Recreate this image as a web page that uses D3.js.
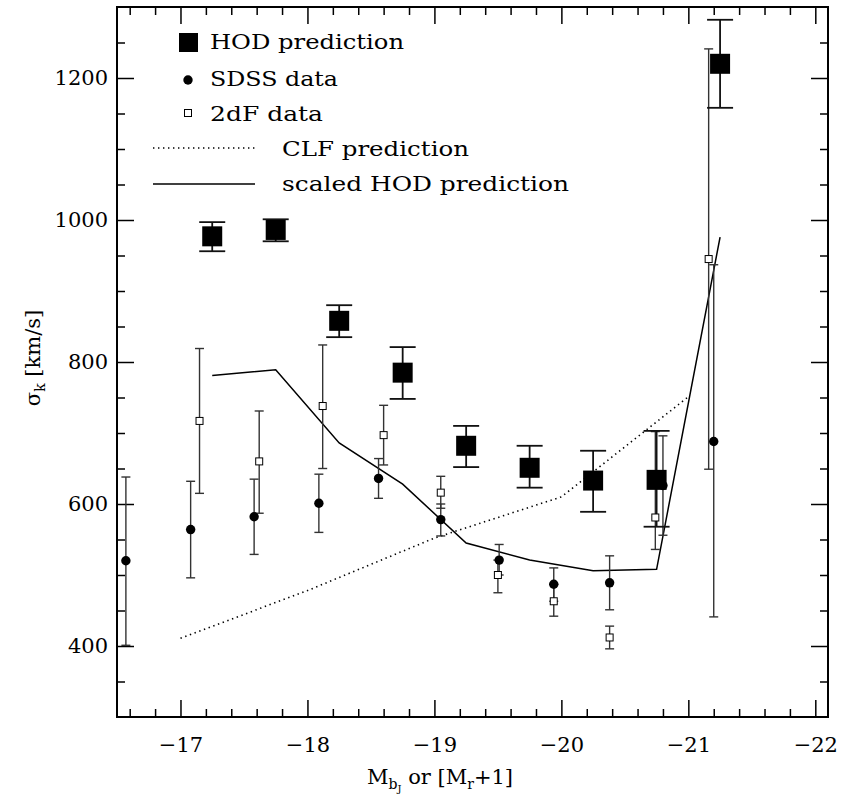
<!DOCTYPE html>
<html>
<head>
<meta charset="utf-8">
<script src="https://cdn.jsdelivr.net/npm/d3@7"></script>
<style>
  body { margin: 0; background: #fff; }
  svg text { font-family: "DejaVu Serif", "Liberation Serif", serif; fill: #000; }
</style>
</head>
<body>
<div id="chart"></div>
<script>
// HOD prediction (big filled squares)
var hodX  = [-17.25, -17.75, -18.25, -18.75, -19.25, -19.75, -20.25, -20.75, -21.25];
var hodY  = [977, 986, 858, 785, 682, 651, 633, 634, 1220];
var hodHi = [997, 1001, 880, 821, 710, 682, 675, 703, 1282];
var hodLo = [956, 970, 835, 748, 652, 623, 589, 568, 1158];

// scaled HOD prediction (solid line)
var scaledY = [781, 789, 686, 628, 545, 521, 506, 508, 976];

// SDSS data (filled circles)
var sdssX  = [-16.57, -17.08, -17.58, -18.09, -18.56, -19.05, -19.51, -19.94, -20.38, -20.80, -21.20];
var sdssY  = [520, 564, 582, 601, 636, 578, 521, 487, 489, 626, 688];
var sdssHi = [638, 632, 635, 642, 664, 600, 543, 510, 527, 696, 937];
var sdssLo = [401, 496, 529, 560, 608, 555, 500, 463, 451, 556, 441];

// 2dF data (open squares)
var tdfX  = [-17.15, -17.62, -18.12, -18.60, -19.05, -19.50, -19.94, -20.38, -20.74, -21.16];
var tdfY  = [717, 660, 738, 697, 616, 500, 463, 412, 581, 945];
var tdfHi = [819, 731, 824, 739, 639, 521, 487, 428, 702, 1241];
var tdfLo = [615, 587, 650, 655, 594, 475, 442, 396, 536, 649];

// CLF prediction (dotted line)
var clfX = [-17, -18, -19, -20, -21];
var clfY = [411, 478, 552, 610, 751];

var xMajor = [-17, -18, -19, -20, -21, -22];
var yMajor = [400, 600, 800, 1000, 1200];

var width = 843, height = 795;
var plotL = 117, plotR = 828, plotT = 7, plotB = 717;

var svg = d3.select("#chart").append("svg")
    .attr("width", width)
    .attr("height", height);

var x = d3.scaleLinear().domain([-16.5, -22.1]).range([plotL, plotR]);
var y = d3.scaleLinear().domain([300, 1300]).range([plotB, plotT]);

// minor tick values
var xMinor = d3.range(-16.6, -22.1, -0.2).map(function(d){ return +d.toFixed(1); })
    .filter(function(d){ return Math.abs(d - Math.round(d)) > 0.01; });
var yMinor = d3.range(350, 1300, 50).filter(function(d){ return d % 200 != 0; });

function styleAxis(g) {
    g.select(".domain").remove();
    g.selectAll("line").attr("stroke", "#000").attr("stroke-width", 1.5);
    g.attr("font-family", null).attr("font-size", null);
}

// bottom axis with labels
svg.append("g")
    .attr("transform", "translate(0," + plotB + ")")
    .call(d3.axisBottom(x).tickValues(xMajor).tickSize(-17).tickPadding(20)
        .tickFormat(function(d){ return "\u2212" + Math.abs(d); }))
    .call(styleAxis)
    .selectAll("text").attr("font-size", 21).attr("dy", "0.71em");
svg.append("g")
    .attr("transform", "translate(0," + plotB + ")")
    .call(d3.axisBottom(x).tickValues(xMinor).tickSize(-8).tickFormat(""))
    .call(styleAxis);

// top axis
svg.append("g")
    .attr("transform", "translate(0," + plotT + ")")
    .call(d3.axisTop(x).tickValues(xMajor).tickSize(-17).tickFormat(""))
    .call(styleAxis);
svg.append("g")
    .attr("transform", "translate(0," + plotT + ")")
    .call(d3.axisTop(x).tickValues(xMinor).tickSize(-8).tickFormat(""))
    .call(styleAxis);

// left axis with labels
svg.append("g")
    .attr("transform", "translate(" + plotL + ",0)")
    .call(d3.axisLeft(y).tickValues(yMajor).tickSize(-17).tickPadding(9).tickFormat(d3.format("d")))
    .call(styleAxis)
    .selectAll("text").attr("font-size", 21);
svg.append("g")
    .attr("transform", "translate(" + plotL + ",0)")
    .call(d3.axisLeft(y).tickValues(yMinor).tickSize(-8).tickFormat(""))
    .call(styleAxis);

// right axis
svg.append("g")
    .attr("transform", "translate(" + plotR + ",0)")
    .call(d3.axisRight(y).tickValues(yMajor).tickSize(-17).tickFormat(""))
    .call(styleAxis);
svg.append("g")
    .attr("transform", "translate(" + plotR + ",0)")
    .call(d3.axisRight(y).tickValues(yMinor).tickSize(-8).tickFormat(""))
    .call(styleAxis);

// frame
svg.append("rect")
    .attr("x", plotL).attr("y", plotT)
    .attr("width", plotR - plotL).attr("height", plotB - plotT)
    .attr("fill", "none").attr("stroke", "#000").attr("stroke-width", 2);

var line = d3.line()
    .x(function(d){ return x(d[0]); })
    .y(function(d){ return y(d[1]); });

// CLF dotted line
svg.append("path")
    .datum(d3.zip(clfX, clfY))
    .attr("d", line)
    .attr("fill", "none").attr("stroke", "#000")
    .attr("stroke-width", 1.6).attr("stroke-dasharray", "1.4,3.6");

// scaled HOD solid line
svg.append("path")
    .datum(d3.zip(hodX, scaledY))
    .attr("d", line)
    .attr("fill", "none").attr("stroke", "#000").attr("stroke-width", 1.5);

// error bars helper
function errorBars(xs, hi, lo, cap, color, w) {
    var g = svg.append("g").attr("stroke", color).attr("stroke-width", w);
    xs.forEach(function(xv, i) {
        var px = x(xv);
        g.append("line").attr("x1", px).attr("x2", px).attr("y1", y(hi[i])).attr("y2", y(lo[i]));
        g.append("line").attr("x1", px - cap).attr("x2", px + cap).attr("y1", y(hi[i])).attr("y2", y(hi[i]));
        g.append("line").attr("x1", px - cap).attr("x2", px + cap).attr("y1", y(lo[i])).attr("y2", y(lo[i]));
    });
}

errorBars(sdssX, sdssHi, sdssLo, 4.5, "#333", 1.4);
errorBars(tdfX, tdfHi, tdfLo, 4.5, "#333", 1.4);
errorBars(hodX, hodHi, hodLo, 13, "#111", 1.8);

// SDSS points
svg.append("g").selectAll("circle")
    .data(d3.zip(sdssX, sdssY))
    .enter().append("circle")
    .attr("cx", function(d){ return x(d[0]); })
    .attr("cy", function(d){ return y(d[1]); })
    .attr("r", 4.7)
    .attr("fill", "#000");

// 2dF points
svg.append("g").selectAll("rect")
    .data(d3.zip(tdfX, tdfY))
    .enter().append("rect")
    .attr("x", function(d){ return x(d[0]) - 3.5; })
    .attr("y", function(d){ return y(d[1]) - 3.5; })
    .attr("width", 7).attr("height", 7)
    .attr("fill", "#fff").attr("stroke", "#000").attr("stroke-width", 1);

// HOD points
svg.append("g").selectAll("rect")
    .data(d3.zip(hodX, hodY))
    .enter().append("rect")
    .attr("x", function(d){ return x(d[0]) - 10; })
    .attr("y", function(d){ return y(d[1]) - 10; })
    .attr("width", 20).attr("height", 20)
    .attr("fill", "#000");

// legend
var leg = svg.append("g");
leg.append("rect").attr("x", 179).attr("y", 33).attr("width", 19).attr("height", 19).attr("fill", "#000");
leg.append("circle").attr("cx", 188).attr("cy", 80).attr("r", 4.7).attr("fill", "#000");
leg.append("rect").attr("x", 184.5).attr("y", 109.5).attr("width", 7).attr("height", 7)
    .attr("fill", "#fff").attr("stroke", "#000");
leg.append("line").attr("x1", 153).attr("x2", 255).attr("y1", 148).attr("y2", 148)
    .attr("stroke", "#000").attr("stroke-width", 1.6).attr("stroke-dasharray", "1.4,3.6");
leg.append("line").attr("x1", 153).attr("x2", 255).attr("y1", 184).attr("y2", 184)
    .attr("stroke", "#000").attr("stroke-width", 1.5);

var legText = [
    ["HOD prediction", 210, 49, 194],
    ["SDSS data", 210, 86, 128],
    ["2dF data", 210, 121, 113],
    ["CLF prediction", 282, 156, 187],
    ["scaled HOD prediction", 282, 191, 287]
];
leg.selectAll("text")
    .data(legText)
    .enter().append("text")
    .attr("x", function(d){ return d[1]; })
    .attr("y", function(d){ return d[2]; })
    .attr("font-size", 21)
    .attr("textLength", function(d){ return d[3]; })
    .attr("lengthAdjust", "spacingAndGlyphs")
    .text(function(d){ return d[0]; });

// x axis title
var xt = svg.append("text")
    .attr("x", 440).attr("y", 784)
    .attr("text-anchor", "middle")
    .attr("font-size", 21);
xt.append("tspan").text("M");
xt.append("tspan").attr("font-size", 14).attr("dy", 5).text("b");
xt.append("tspan").attr("font-size", 10).attr("dy", 3).text("J");
xt.append("tspan").attr("dy", -8).text(" or [M");
xt.append("tspan").attr("font-size", 14).attr("dy", 5).text("r");
xt.append("tspan").attr("dy", -5).text("+1]");

// y axis title
var yt = svg.append("text")
    .attr("transform", "translate(40,358) rotate(-90)")
    .attr("text-anchor", "middle")
    .attr("font-size", 21);
yt.append("tspan").text("\u03c3");
yt.append("tspan").attr("font-size", 14).attr("dy", 5).text("k");
yt.append("tspan").attr("dy", -5).text(" [km/s]");
</script>
</body>
</html>
